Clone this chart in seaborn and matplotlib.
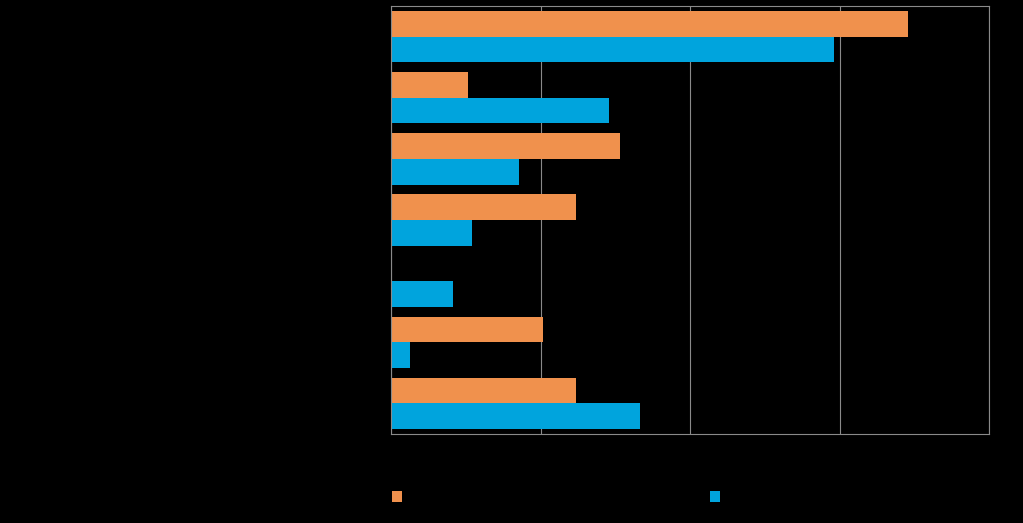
import pandas as pd
import numpy as np
import matplotlib.pyplot as plt
import seaborn as sns
from matplotlib.patches import Patch

# values (x axis 0..40, gridlines every 10)
categories = ['A', 'B', 'C', 'D', 'E', 'F', 'G']
series_names = ['Series 1', 'Series 2']
orange_vals = [34.6, 5.15, 15.3, 12.4, 0.0, 10.2, 12.4]
blue_vals = [29.6, 14.6, 8.55, 5.4, 4.15, 1.25, 16.65]

colors = ['#F0914D', '#00A4DD']

df = pd.DataFrame({
    'category': categories * 2,
    'series': [series_names[0]] * len(categories) + [series_names[1]] * len(categories),
    'value': orange_vals + blue_vals,
})

sns.set_style('dark')
fig = plt.figure(figsize=(10.23, 5.23), dpi=100, facecolor='black')
ax = fig.add_axes([391 / 1023, 1 - 434 / 523, 598 / 1023, 428 / 523])
ax.set_facecolor('black')

sns.barplot(data=df, y='category', x='value', hue='series', hue_order=series_names,
            palette=colors, orient='h', width=0.84, saturation=1, ax=ax,
            legend=False, linewidth=0)

ax.set_xlim(0, 40)
ax.set_ylim(len(categories) - 0.5, -0.5)
ax.set_xticks([0, 10, 20, 30, 40])
ax.grid(axis='x', color='#8a8a8a', linewidth=0.8)
ax.grid(axis='y', visible=False)
ax.set_axisbelow(True)
for s in ax.spines.values():
    s.set_visible(True)
    s.set_color('#8a8a8a')
    s.set_linewidth(0.8)
ax.tick_params(colors='black', length=0, labelcolor='black')
ax.set_xlabel('')
ax.set_ylabel('')

# legend entries: two separate boxes under the plot
for i, (name, c, xpos) in enumerate(zip(series_names, colors, [386, 704])):
    leg = fig.legend(handles=[Patch(facecolor=c, edgecolor='none')], labels=[name],
                     loc='center left', bbox_to_anchor=(xpos / 1023, 1 - 497 / 523),
                     frameon=False, handlelength=0.75, handleheight=0.85,
                     handletextpad=0.5, borderaxespad=0, fontsize=10,
                     labelcolor='black')

fig.savefig('out.png', dpi=100, facecolor='black')
